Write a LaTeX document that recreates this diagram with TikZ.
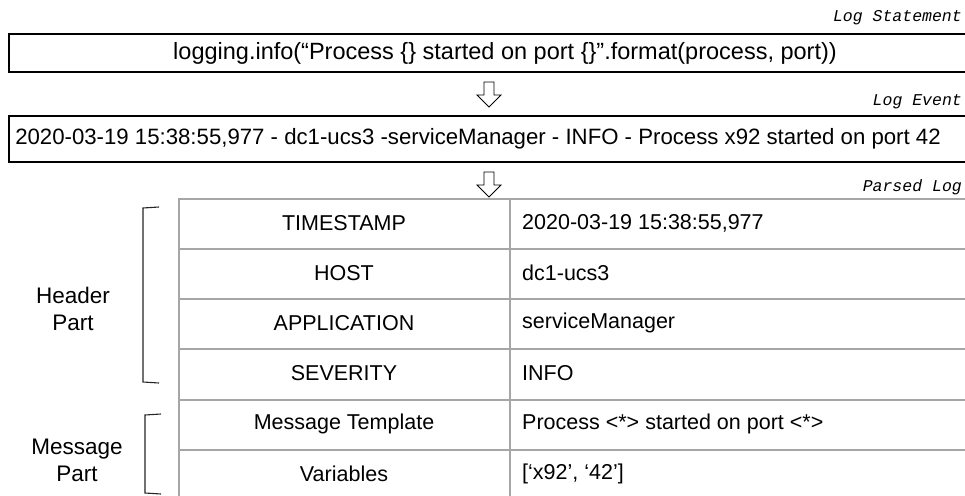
\documentclass[tikz,border=0pt]{standalone}
\usepackage{fontspec}
\setmainfont{Liberation Sans}
\newfontfamily\monoit{Liberation Mono}[ItalicFont={Liberation Mono Italic}]
\begin{document}
\begin{tikzpicture}[x=1pt,y=-1pt,
  boxline/.style={draw=black,line width=1.1pt},
  gridline/.style={draw=black!35,line width=1.4pt},
  bracketline/.style={draw=black!85,line width=1.1pt},
  txt/.style={inner sep=0pt,font=\fontsize{21.5}{26}\selectfont},
  lbl/.style={inner sep=0pt,anchor=east,font=\fontsize{16.5}{19}\selectfont\monoit\itshape},
  hollowarrow/.style={draw=black,line width=0.9pt,fill=white}]
\clip (0,0) rectangle (965,495);
\fill[white] (0,0) rectangle (965,495);
% labels
\node[lbl] (l1) at (962,18) {Log Statement};
\node[lbl] (l2) at (962,102) {Log Event};
\node[lbl] (l3) at (962,187) {Parsed Log};
% box 1
\draw[boxline] (975,34) -- (9,34) -- (9,72) -- (975,72);
\node[txt,font=\fontsize{23.5}{26}\selectfont] (stmt) at (505,53) {logging.info(“Process \{\} started on port \{\}”.format(process, port))};
% box 2
\draw[boxline] (975,116) -- (9,116) -- (9,162) -- (975,162);
\node[txt,font=\fontsize{22.2}{26}\selectfont] (event) at (478,139) {2020-03-19 15:38:55,977 - dc1-ucs3 -serviceManager - INFO - Process x92 started on port 42};
% arrows
\draw[hollowarrow] (484,82) -- (494,82) -- (494,95) -- (501,95) -- (489,107) -- (477,95) -- (484,95) -- cycle;
\draw[hollowarrow] (484,172) -- (494,172) -- (494,185) -- (501,185) -- (489,197) -- (477,185) -- (484,185) -- cycle;
% table
\draw[gridline] (975,199) -- (179,199) -- (179,500);
\draw[gridline] (510,199) -- (510,500);
\foreach \yy in {249,299,349,400,450} {\draw[gridline] (179,\yy) -- (975,\yy);}
\node[txt] (k1) at (344,223) {TIMESTAMP};
\node[txt] (k2) at (344,273) {HOST};
\node[txt] (k3) at (344,323) {APPLICATION};
\node[txt] (k4) at (344,373) {SEVERITY};
\node[txt] (k5) at (344,424) {Message Template};
\node[txt] (k6) at (344,474) {Variables};
\node[txt,anchor=west] (v1) at (522,223) {2020-03-19 15:38:55,977};
\node[txt,anchor=west] (v2) at (522,273) {dc1-ucs3};
\node[txt,anchor=west] (v3) at (522,323) {serviceManager};
\node[txt,anchor=west] (v4) at (522,373) {INFO};
\node[txt,anchor=west] (v5) at (522,424) {Process <*> started on port <*>};
\node[txt,anchor=west] (v6) at (522,474) {[‘x92’, ‘42’]};
% brackets
\draw[bracketline] (159,207) -- (143,208) -- (143,382) -- (159,383);
\draw[bracketline] (161,414) -- (145,415) -- (145,493) -- (161,494);
\node[txt,align=center,font=\fontsize{22.5}{27}\selectfont] (hp) at (73,309) {Header\\Part};
\node[txt,align=center,font=\fontsize{22.5}{27}\selectfont] (mp) at (77,460) {Message\\Part};
\end{tikzpicture}
\end{document}
